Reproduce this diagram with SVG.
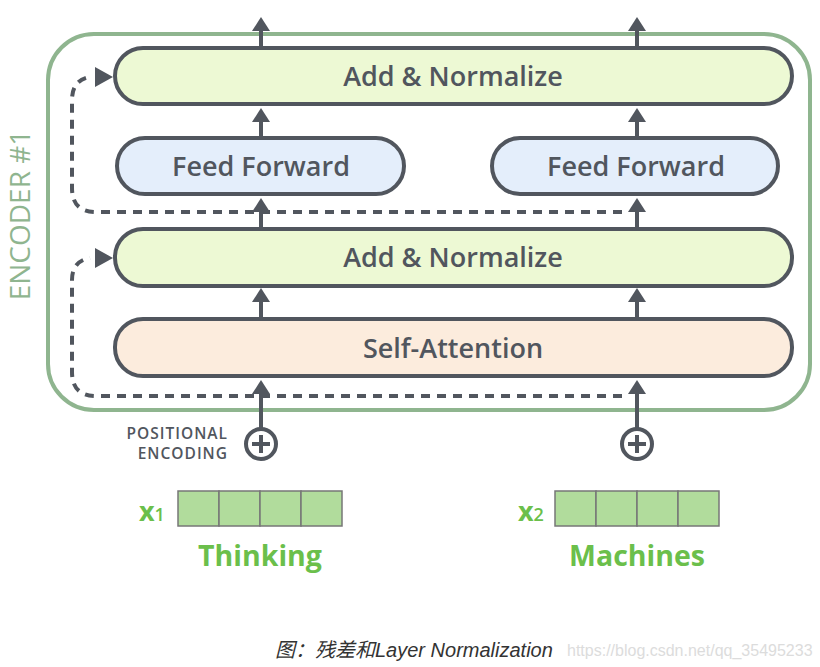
<svg xmlns="http://www.w3.org/2000/svg" width="820" height="667" viewBox="0 0 820 667">
<defs>
<style>
.blk{stroke:#51565e;stroke-width:4}
.lbl{font-family:"Open Sans","DejaVu Sans",sans-serif;font-size:27px;font-weight:600;fill:#51565e;text-anchor:middle}
.ln{stroke:#51565e;stroke-width:4;fill:none}
.dash{stroke:#51565e;stroke-width:4;fill:none;stroke-dasharray:9 7}
.head{fill:#51565e}
.cell{fill:#b1dc9c;stroke:#777;stroke-width:1.5}
.grn{font-family:"Open Sans","DejaVu Sans",sans-serif;font-weight:bold;fill:#6bbf4b}
.pe{font-family:"Open Sans","DejaVu Sans",sans-serif;font-size:15.5px;font-weight:600;letter-spacing:1px;fill:#51565e;text-anchor:end}
</style>
</defs>
<rect width="820" height="667" fill="#fff"/>
<g id="encoder">
<rect x="48" y="34" width="762" height="376" rx="46" fill="none" stroke="#8fb58f" stroke-width="4"/>
<text transform="translate(30,215) rotate(-90)" font-family="Open Sans, DejaVu Sans, sans-serif" font-size="28" fill="#8fb58f" text-anchor="middle">ENCODER #1</text>
</g>
<g id="connectors">
<path class="dash" d="M622 212 H96 Q72 212 72 188 V100 Q72 80 90 77"/>
<path class="dash" d="M622 396 H96 Q72 396 72 372 V280 Q72 261 90 258"/>
<polygon class="head" points="113,77 95,67 95,87"/>
<polygon class="head" points="113,258 95,248 95,268"/>
<line class="ln" x1="261" y1="48" x2="261" y2="28"/><polygon class="head" points="261,17 252,31 270,31"/>
<line class="ln" x1="637" y1="48" x2="637" y2="28"/><polygon class="head" points="637,17 628,31 646,31"/>
<line class="ln" x1="261" y1="138" x2="261" y2="120"/><polygon class="head" points="261,108 252,122 270,122"/>
<line class="ln" x1="637" y1="138" x2="637" y2="120"/><polygon class="head" points="637,108 628,122 646,122"/>
<line class="ln" x1="261" y1="229" x2="261" y2="210"/><polygon class="head" points="261,198 252,212 270,212"/>
<line class="ln" x1="637" y1="229" x2="637" y2="210"/><polygon class="head" points="637,198 628,212 646,212"/>
<line class="ln" x1="261" y1="319" x2="261" y2="300"/><polygon class="head" points="261,288 252,302 270,302"/>
<line class="ln" x1="637" y1="319" x2="637" y2="300"/><polygon class="head" points="637,288 628,302 646,302"/>
<line class="ln" x1="261" y1="429" x2="261" y2="392"/><polygon class="head" points="261,380 252,394 270,394"/>
<line class="ln" x1="637" y1="429" x2="637" y2="392"/><polygon class="head" points="637,380 628,394 646,394"/>
</g>
<g id="add-norm-top">
<rect class="blk" x="115" y="48" width="677" height="56" rx="28" fill="#edf9d4"/>
<text class="lbl" x="453" y="86">Add &amp; Normalize</text>
</g>
<g id="ff-left">
<rect class="blk" x="117" y="138" width="287" height="56" rx="28" fill="#e4eefb"/>
<text class="lbl" x="261" y="176">Feed Forward</text>
</g>
<g id="ff-right">
<rect class="blk" x="492" y="138" width="286" height="56" rx="28" fill="#e4eefb"/>
<text class="lbl" x="636" y="176">Feed Forward</text>
</g>
<g id="add-norm-mid">
<rect class="blk" x="115" y="229" width="677" height="57" rx="28" fill="#edf9d4"/>
<text class="lbl" x="453" y="267">Add &amp; Normalize</text>
</g>
<g id="self-attention">
<rect class="blk" x="115" y="319" width="677" height="57" rx="28" fill="#fcecdd"/>
<text class="lbl" x="453" y="358">Self-Attention</text>
</g>
<g id="pos-enc-1">
<circle cx="261" cy="444" r="15" fill="#fff" stroke="#51565e" stroke-width="4"/>
<path d="M261 435 V453 M252 444 H270" stroke="#51565e" stroke-width="4"/>
<text class="pe" x="228" y="439">POSITIONAL</text>
<text class="pe" x="228" y="459">ENCODING</text>
</g>
<g id="pos-enc-2">
<circle cx="637" cy="444" r="15" fill="#fff" stroke="#51565e" stroke-width="4"/>
<path d="M637 435 V453 M628 444 H646" stroke="#51565e" stroke-width="4"/>
</g>
<g id="x1">
<rect class="cell" x="178" y="491" width="41" height="35"/>
<rect class="cell" x="219" y="491" width="41" height="35"/>
<rect class="cell" x="260" y="491" width="41" height="35"/>
<rect class="cell" x="301" y="491" width="41" height="35"/>
<text class="grn" x="139" y="521" font-size="27">x<tspan font-size="18" font-weight="600">1</tspan></text>
<text class="grn" x="260" y="566" font-size="28.5" text-anchor="middle">Thinking</text>
</g>
<g id="x2">
<rect class="cell" x="555" y="491" width="41" height="35"/>
<rect class="cell" x="596" y="491" width="41" height="35"/>
<rect class="cell" x="637" y="491" width="41" height="35"/>
<rect class="cell" x="678" y="491" width="41" height="35"/>
<text class="grn" x="518" y="521" font-size="27">x<tspan font-size="18" font-weight="600">2</tspan></text>
<text class="grn" x="637" y="566" font-size="28.5" text-anchor="middle">Machines</text>
</g>
<g id="caption">
<text x="275" y="657" font-family="Liberation Sans, Noto Sans CJK SC, sans-serif" font-style="italic" font-size="20" fill="#333">图：残差和Layer Normalization</text>
<text x="567" y="656" font-family="Liberation Sans, sans-serif" font-size="16" fill="#dcdcdc">https://blog.csdn.net/qq_35495233</text>
</g>
</svg>
